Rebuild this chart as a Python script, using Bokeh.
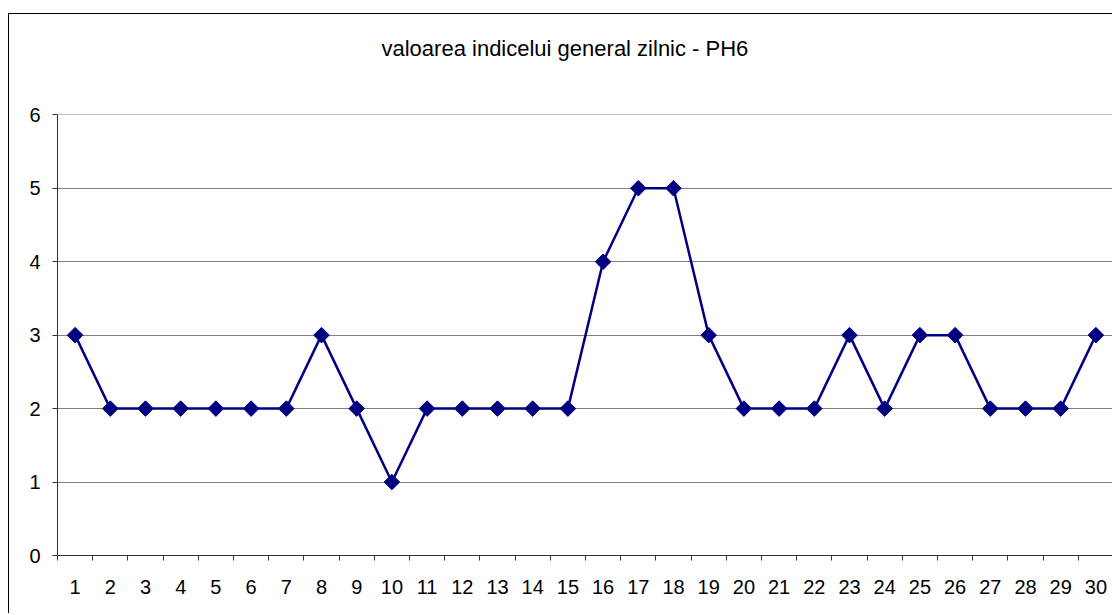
import math
from bokeh.plotting import figure
from bokeh.models import FixedTicker, Range1d, Title
from bokeh.embed import file_html
from bokeh.resources import INLINE

days = list(range(1, 31))
values = [3, 2, 2, 2, 2, 2, 2, 3, 2, 1, 2, 2, 2, 2, 2, 4, 5, 5, 3, 2, 2, 2, 3, 2, 3, 3, 2, 2, 2, 3]
y_ticks = [0, 1, 2, 3, 4, 5, 6]
title_text = "valoarea indicelui general zilnic - PH6"

FONT = "Liberation Sans"
NAVY = "#000080"

p = figure(width=1104, height=600, output_backend="svg", toolbar_location=None,
           x_range=Range1d(0.5, 30.5), y_range=Range1d(0, 6.004),
           min_border_left=48, min_border_right=0, min_border_top=98, min_border_bottom=59)
p.margin = (13, 0, 0, 8)
p.styles = {"border-left": "1px solid black", "border-top": "1px solid black"}

p.title.text = title_text
p.title.align = "left"
p.title.text_font = FONT
p.title.text_font_size = "22px"
p.title.text_font_style = "normal"
p.title.text_color = "black"
p.title.offset = 324
p.title.standoff = 38

spacer = Title(text=" ", text_font_size="1px", standoff=32)
p.add_layout(spacer, "above")

p.outline_line_color = None
p.background_fill_color = "white"
p.border_fill_color = "white"

p.xgrid.grid_line_color = None
p.ygrid.grid_line_color = "#808080"
p.ygrid.grid_line_width = 1
p.ygrid.ticker = FixedTicker(ticks=y_ticks[1:])

p.xaxis.ticker = FixedTicker(ticks=days, minor_ticks=[d + 0.5 for d in [0] + days])
p.xaxis.major_tick_line_color = None
p.xaxis.minor_tick_line_color = "#333333"
p.xaxis.minor_tick_out = 5
p.xaxis.minor_tick_in = 0
p.xaxis.axis_line_color = "#333333"
p.xaxis.major_label_standoff = 18
p.xaxis.major_label_text_font = FONT
p.xaxis.major_label_text_font_size = "20px"
p.xaxis.major_label_text_color = "black"

p.yaxis.ticker = FixedTicker(ticks=y_ticks)
p.yaxis.minor_tick_line_color = None
p.yaxis.major_tick_line_color = "#333333"
p.yaxis.major_tick_out = 5
p.yaxis.major_tick_in = 0
p.yaxis.axis_line_color = "#333333"
p.yaxis.major_label_standoff = 12
p.yaxis.major_label_text_font = FONT
p.yaxis.major_label_text_font_size = "20px"
p.yaxis.major_label_text_color = "black"

p.line(days, values, line_color=NAVY, line_width=2.5)
p.scatter(days, values, marker="square", angle=math.pi / 4, size=11,
          fill_color=NAVY, line_color=NAVY)

open("out.html", "w").write(file_html(p, INLINE))
